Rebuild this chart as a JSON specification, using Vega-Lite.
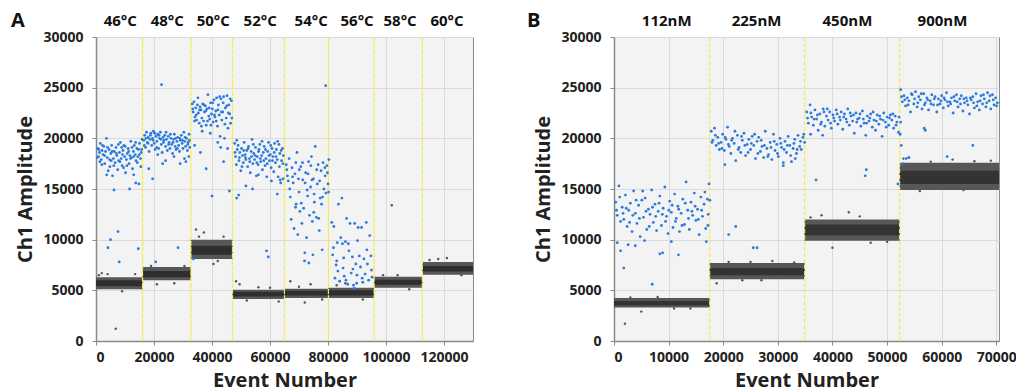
{
"$schema": "https://vega.github.io/schema/vega-lite/v6.json",
"background": "white",
"padding": {"left": 10, "top": 10, "right": 0, "bottom": 0},
"spacing": 52,
"config": {
 "view": {"fill": "#f3f3f3", "stroke": "#8a8a8a", "strokeWidth": 1},
 "axis": {"labelFont": "Open Sans", "labelFontWeight": "bold", "labelFontSize": 14, "labelColor": "#222", "titleFont": "Open Sans", "titleFontWeight": "bold", "titleFontSize": 20, "titleColor": "#222", "gridColor": "#dadada", "domainColor": "#8a8a8a", "domainWidth": 1.5, "tickColor": "#8a8a8a", "tickSize": 4, "format": "d"},
 "axisY": {"labelPadding": 9, "titlePadding": 7},
 "axisX": {"labelPadding": 5, "titlePadding": 6}
},
"datasets": {
 "bandsA": [
  {"start":0,"end":16055,"lo":5100,"hi":6300,"clo":5400,"chi":6000},
  {"start":16055,"end":32730,"lo":6000,"hi":7300,"clo":6300,"chi":6900},
  {"start":32730,"end":47060,"lo":8100,"hi":10000,"clo":8500,"chi":9400},
  {"start":47060,"end":64980,"lo":4150,"hi":5050,"clo":4400,"chi":4850},
  {"start":64980,"end":80140,"lo":4250,"hi":5150,"clo":4500,"chi":4950},
  {"start":80140,"end":95890,"lo":4250,"hi":5250,"clo":4500,"chi":5000},
  {"start":95890,"end":112530,"lo":5250,"hi":6350,"clo":5550,"chi":6050},
  {"start":112530,"end":130000,"lo":6550,"hi":7800,"clo":6850,"chi":7400}
 ],
 "linesA": [{"x":16055},{"x":32730},{"x":47060},{"x":64980},{"x":80140},{"x":95890},{"x":112530}],
 "headsA": [
  {"x":8370,"y":31600,"t":"46°C"},{"x":24560,"y":31600,"t":"48°C"},{"x":40410,"y":31600,"t":"50°C"},{"x":56600,"y":31600,"t":"52°C"},
  {"x":74180,"y":31600,"t":"54°C"},{"x":90030,"y":31600,"t":"56°C"},{"x":104850,"y":31600,"t":"58°C"},{"x":121040,"y":31600,"t":"60°C"},
  {"x":-26900,"y":31600,"t":"A"}
 ],
 "grayA": [
  {"x":6800,"y":1200},{"x":72000,"y":3800},{"x":102000,"y":13400},{"x":34500,"y":11000},{"x":37200,"y":10700},{"x":48300,"y":5900},{"x":49500,"y":5600},{"x":56000,"y":5300},{"x":74000,"y":5600},{"x":67000,"y":5900},{"x":86000,"y":5700},{"x":104000,"y":6500},{"x":118000,"y":8100},{"x":121000,"y":8200},{"x":2000,"y":6700},{"x":1000,"y":6500},{"x":21000,"y":5600},{"x":40500,"y":7600},{"x":63000,"y":3900},
  {"x":4000,"y":6600},{"x":9000,"y":4900},{"x":13500,"y":6600},{"x":19000,"y":7400},{"x":27000,"y":5700},{"x":30500,"y":7400},{"x":35500,"y":10300},{"x":44000,"y":10300},{"x":42000,"y":7900},{"x":52000,"y":4000},{"x":60000,"y":5250},{"x":70000,"y":5350},{"x":78000,"y":4100},{"x":83000,"y":5500},{"x":92000,"y":4100},{"x":99000,"y":6500},{"x":108000,"y":5100},{"x":115000,"y":8000},{"x":126000,"y":6500}
 ],
 "blueA": [
  {"x":600,"y":19000},{"x":900,"y":18200},{"x":1200,"y":18600},{"x":1500,"y":19500},{"x":1800,"y":17900},{"x":2100,"y":18800},{"x":2400,"y":18400},{"x":2700,"y":19200},{"x":3000,"y":17500},{"x":3300,"y":18700},{"x":3600,"y":20000},{"x":3900,"y":18100},{"x":4200,"y":16800},{"x":4500,"y":18900},{"x":4800,"y":17200},{"x":5100,"y":18500},{"x":5400,"y":19300},{"x":5700,"y":16300},{"x":6000,"y":18000},{"x":6300,"y":18700},{"x":6600,"y":17600},{"x":6900,"y":19100},{"x":7200,"y":18300},{"x":7500,"y":16900},{"x":7800,"y":17800},{"x":8100,"y":18600},{"x":8400,"y":19600},{"x":8700,"y":18000},{"x":9000,"y":17300},{"x":9300,"y":18800},{"x":9600,"y":19300},{"x":9900,"y":18200},{"x":10200,"y":16600},{"x":10500,"y":17900},{"x":10800,"y":18500},{"x":11100,"y":19000},{"x":11400,"y":17500},{"x":11700,"y":18300},{"x":12000,"y":19700},{"x":12300,"y":18100},{"x":12600,"y":17000},{"x":12900,"y":18700},{"x":13200,"y":19300},{"x":13500,"y":18400},{"x":13800,"y":17800},{"x":14100,"y":19000},{"x":14400,"y":18200},{"x":14700,"y":18900},{"x":15000,"y":19500},{"x":15300,"y":18000},{"x":15600,"y":18600},{"x":15900,"y":19900},
  {"x":450,"y":18100},{"x":1350,"y":17700},{"x":2250,"y":19300},{"x":2950,"y":18300},{"x":4000,"y":19100},{"x":4650,"y":17900},{"x":5550,"y":18700},{"x":6150,"y":17300},{"x":7050,"y":18500},{"x":7700,"y":19400},{"x":8250,"y":17700},{"x":9150,"y":18400},{"x":10050,"y":19200},{"x":10650,"y":17300},{"x":11250,"y":18700},{"x":11900,"y":18000},{"x":12450,"y":19100},{"x":13050,"y":18200},{"x":13650,"y":19600},{"x":14250,"y":17600},{"x":14950,"y":18400},{"x":15450,"y":17200},{"x":15750,"y":18900},{"x":5250,"y":17800},{"x":8850,"y":19100},
  {"x":6200,"y":14900},{"x":11600,"y":15000},{"x":13700,"y":15600},{"x":14800,"y":15500},{"x":3700,"y":16400},{"x":5000,"y":10000},{"x":4100,"y":9200},{"x":7600,"y":10800},{"x":8000,"y":7800},{"x":14600,"y":9100},{"x":9500,"y":17100},{"x":2000,"y":17400},{"x":1000,"y":18900},{"x":13000,"y":16400},
  {"x":16500,"y":19800},{"x":16800,"y":20300},{"x":17100,"y":19100},{"x":17400,"y":20600},{"x":17700,"y":19600},{"x":18000,"y":20100},{"x":18300,"y":18700},{"x":18600,"y":19900},{"x":18900,"y":20500},{"x":19200,"y":19300},{"x":19500,"y":20000},{"x":19800,"y":20700},{"x":20100,"y":19500},{"x":20400,"y":18900},{"x":20700,"y":20200},{"x":21000,"y":19700},{"x":21300,"y":20400},{"x":21600,"y":19000},{"x":21900,"y":20000},{"x":22200,"y":20600},{"x":22500,"y":19400},{"x":22800,"y":18600},{"x":23100,"y":20100},{"x":23400,"y":19800},{"x":23700,"y":20300},{"x":24000,"y":19200},{"x":24300,"y":19900},{"x":24600,"y":18800},{"x":24900,"y":20200},{"x":25200,"y":19600},{"x":25500,"y":19000},{"x":25800,"y":20000},{"x":26100,"y":19400},{"x":26400,"y":18500},{"x":26700,"y":19900},{"x":27000,"y":20400},{"x":27300,"y":19200},{"x":27600,"y":18900},{"x":27900,"y":19700},{"x":28200,"y":20100},{"x":28500,"y":19300},{"x":28800,"y":18700},{"x":29100,"y":19800},{"x":29400,"y":20300},{"x":29700,"y":19500},{"x":30000,"y":19000},{"x":30300,"y":20600},{"x":30600,"y":19700},{"x":30900,"y":19200},{"x":31200,"y":20000},{"x":31500,"y":18800},{"x":31800,"y":19600},{"x":32100,"y":20400},{"x":32300,"y":19100},
  {"x":16650,"y":19300},{"x":17250,"y":20000},{"x":17950,"y":19500},{"x":18750,"y":20300},{"x":19650,"y":19800},{"x":20250,"y":20500},{"x":20950,"y":19100},{"x":21750,"y":20300},{"x":22350,"y":19900},{"x":23250,"y":19600},{"x":24150,"y":20600},{"x":25050,"y":19400},{"x":25650,"y":20400},{"x":26550,"y":19600},{"x":27450,"y":20000},{"x":28050,"y":19000},{"x":28950,"y":20000},{"x":29850,"y":19800},{"x":30750,"y":20100},{"x":31650,"y":19400},{"x":32200,"y":19800},{"x":26900,"y":18200},{"x":23000,"y":17500},
  {"x":22600,"y":25300},{"x":18200,"y":17000},{"x":19500,"y":16000},{"x":29000,"y":17500},{"x":32000,"y":18200},{"x":24000,"y":17800},{"x":21300,"y":18400},{"x":28300,"y":9200},{"x":20600,"y":7800},{"x":30500,"y":18000},{"x":31000,"y":17700},
  {"x":33200,"y":23400},{"x":33500,"y":22600},{"x":33800,"y":23600},{"x":34100,"y":22100},{"x":34400,"y":23000},{"x":34700,"y":21800},{"x":35000,"y":23300},{"x":35300,"y":22500},{"x":35600,"y":21500},{"x":35900,"y":23100},{"x":36200,"y":22800},{"x":36500,"y":22000},{"x":36800,"y":23400},{"x":37100,"y":21700},{"x":37400,"y":22600},{"x":37700,"y":23200},{"x":38000,"y":21300},{"x":38300,"y":22900},{"x":38600,"y":24300},{"x":38900,"y":22200},{"x":39200,"y":21900},{"x":39500,"y":23500},{"x":39800,"y":22400},{"x":40100,"y":22900},{"x":40400,"y":21600},{"x":40700,"y":23800},{"x":41000,"y":22100},{"x":41300,"y":22700},{"x":41600,"y":24000},{"x":41900,"y":21200},{"x":42200,"y":23300},{"x":42500,"y":22300},{"x":42800,"y":20200},{"x":43100,"y":23900},{"x":43400,"y":21800},{"x":43700,"y":22600},{"x":44000,"y":24100},{"x":44300,"y":20000},{"x":44600,"y":23000},{"x":44900,"y":22000},{"x":45200,"y":24200},{"x":45500,"y":21000},{"x":45800,"y":23300},{"x":46100,"y":22400},{"x":46400,"y":21500},{"x":46700,"y":23700},
  {"x":33350,"y":22900},{"x":33950,"y":21700},{"x":34550,"y":22300},{"x":35150,"y":24000},{"x":35750,"y":22800},{"x":36350,"y":21200},{"x":37250,"y":23300},{"x":37850,"y":22700},{"x":38450,"y":21700},{"x":39050,"y":23000},{"x":39650,"y":21300},{"x":40250,"y":23500},{"x":40850,"y":22300},{"x":41450,"y":21700},{"x":42050,"y":22800},{"x":42650,"y":24100},{"x":43250,"y":22600},{"x":43850,"y":23500},{"x":44450,"y":21400},{"x":45050,"y":23200},{"x":45650,"y":22500},{"x":46250,"y":23900},{"x":46850,"y":22000},
  {"x":34000,"y":19300},{"x":36000,"y":18600},{"x":38000,"y":17000},{"x":40000,"y":14300},{"x":42000,"y":19600},{"x":44000,"y":17700},{"x":46000,"y":14800},{"x":45400,"y":19000},{"x":33600,"y":8100},{"x":39400,"y":20500},{"x":43000,"y":19100},{"x":36600,"y":20700},
  {"x":47800,"y":19500},{"x":48100,"y":18200},{"x":48400,"y":17400},{"x":48700,"y":18900},{"x":49000,"y":19300},{"x":49300,"y":17800},{"x":49600,"y":18600},{"x":49900,"y":16800},{"x":50200,"y":19000},{"x":50500,"y":18300},{"x":50800,"y":17600},{"x":51100,"y":19600},{"x":51400,"y":18400},{"x":51700,"y":17900},{"x":52000,"y":18800},{"x":52300,"y":17200},{"x":52600,"y":19200},{"x":52900,"y":18000},{"x":53200,"y":16600},{"x":53500,"y":18700},{"x":53800,"y":19900},{"x":54100,"y":17500},{"x":54400,"y":18500},{"x":54700,"y":17900},{"x":55000,"y":19100},{"x":55300,"y":16300},{"x":55600,"y":18200},{"x":55900,"y":17400},{"x":56200,"y":18900},{"x":56500,"y":19400},{"x":56800,"y":17700},{"x":57100,"y":18300},{"x":57400,"y":16900},{"x":57700,"y":18600},{"x":58000,"y":19200},{"x":58300,"y":17300},{"x":58600,"y":18000},{"x":58900,"y":16200},{"x":59200,"y":18700},{"x":59500,"y":19600},{"x":59800,"y":17800},{"x":60100,"y":18400},{"x":60400,"y":17100},{"x":60700,"y":19000},{"x":61000,"y":18200},{"x":61300,"y":16700},{"x":61600,"y":19500},{"x":61900,"y":17600},{"x":62200,"y":18900},{"x":62500,"y":17900},{"x":62800,"y":16200},{"x":63100,"y":19400},{"x":63400,"y":18500},{"x":63700,"y":15600},{"x":64000,"y":17800},{"x":64300,"y":19000},{"x":64600,"y":18300},
  {"x":47950,"y":18600},{"x":48550,"y":19800},{"x":49450,"y":18100},{"x":50350,"y":17200},{"x":50950,"y":18800},{"x":51550,"y":18100},{"x":52450,"y":19000},{"x":53050,"y":17700},{"x":53650,"y":18200},{"x":54250,"y":19400},{"x":54850,"y":18300},{"x":55450,"y":17600},{"x":56050,"y":18700},{"x":56650,"y":18000},{"x":57250,"y":19700},{"x":57850,"y":17800},{"x":58450,"y":18900},{"x":59050,"y":17500},{"x":59650,"y":18300},{"x":60250,"y":19300},{"x":60850,"y":17800},{"x":61450,"y":18600},{"x":62050,"y":18200},{"x":62650,"y":19700},{"x":63250,"y":17200},{"x":63850,"y":18800},{"x":64450,"y":17500},
  {"x":48500,"y":14100},{"x":49200,"y":14400},{"x":51700,"y":15300},{"x":54000,"y":15000},{"x":56000,"y":16400},{"x":60500,"y":15800},{"x":62500,"y":14500},{"x":58800,"y":8900},{"x":59400,"y":8300},{"x":63500,"y":15900},{"x":64500,"y":16000},
  {"x":65600,"y":17400},{"x":66000,"y":16300},{"x":66300,"y":15800},{"x":66600,"y":18000},{"x":67000,"y":14200},{"x":67300,"y":12000},{"x":67600,"y":17100},{"x":68000,"y":15600},{"x":68300,"y":11100},{"x":68600,"y":16500},{"x":69000,"y":13500},{"x":69300,"y":18600},{"x":69600,"y":10500},{"x":70000,"y":14700},{"x":70300,"y":12800},{"x":70600,"y":17200},{"x":71000,"y":11600},{"x":71300,"y":15900},{"x":71600,"y":13100},{"x":72000,"y":8700},{"x":72300,"y":16600},{"x":72600,"y":10200},{"x":73000,"y":14300},{"x":73300,"y":17700},{"x":73600,"y":12400},{"x":74000,"y":15200},{"x":74300,"y":18200},{"x":74600,"y":11800},{"x":75000,"y":16000},{"x":75300,"y":13700},{"x":75600,"y":19200},{"x":76000,"y":12200},{"x":76300,"y":15500},{"x":76600,"y":17400},{"x":77000,"y":10900},{"x":77300,"y":14100},{"x":77600,"y":16800},{"x":78000,"y":9000},{"x":78300,"y":17600},{"x":78600,"y":15000},{"x":79000,"y":16300},{"x":79300,"y":14600},{"x":79600,"y":17300},{"x":80000,"y":15500},{"x":80300,"y":17900},
  {"x":65800,"y":16900},{"x":66800,"y":15000},{"x":67800,"y":16200},{"x":68900,"y":17600},{"x":70100,"y":16900},{"x":71200,"y":17600},{"x":72100,"y":15600},{"x":73100,"y":16500},{"x":74100,"y":17300},{"x":75200,"y":14500},{"x":76100,"y":16900},{"x":77100,"y":15800},{"x":78100,"y":14200},{"x":78900,"y":17100},{"x":79800,"y":16600},{"x":80200,"y":14700},{"x":70800,"y":13600},{"x":74500,"y":15900},
  {"x":73400,"y":7700},{"x":71900,"y":7900},{"x":75100,"y":12700},{"x":77800,"y":13500},{"x":72800,"y":14900},{"x":79200,"y":25200},{"x":74800,"y":8500},{"x":68800,"y":13200},{"x":69800,"y":16000},{"x":76800,"y":12100},
  {"x":81300,"y":11700},{"x":81600,"y":8500},{"x":82000,"y":11300},{"x":82400,"y":6200},{"x":82800,"y":7500},{"x":83200,"y":9700},{"x":83600,"y":13500},{"x":84000,"y":5900},{"x":84400,"y":10200},{"x":84800,"y":14100},{"x":85200,"y":7200},{"x":85600,"y":6400},{"x":86000,"y":9800},{"x":86400,"y":12100},{"x":86800,"y":5600},{"x":87200,"y":8900},{"x":87600,"y":11600},{"x":88000,"y":6700},{"x":88400,"y":8300},{"x":88800,"y":5500},{"x":89200,"y":11600},{"x":89600,"y":7600},{"x":90000,"y":6500},{"x":90400,"y":11200},{"x":90800,"y":8400},{"x":91200,"y":7300},{"x":91600,"y":11200},{"x":92000,"y":5800},{"x":92400,"y":8100},{"x":92800,"y":6600},{"x":93200,"y":11700},{"x":93600,"y":7600},{"x":94000,"y":6000},{"x":94400,"y":10400},{"x":94800,"y":8400},{"x":95200,"y":6300},
  {"x":81900,"y":9200},{"x":83400,"y":6900},{"x":85400,"y":8200},{"x":87000,"y":9600},{"x":88600,"y":7100},{"x":90200,"y":9900},{"x":91800,"y":6200},{"x":93400,"y":9000},{"x":95000,"y":7000},{"x":86200,"y":6000},{"x":89900,"y":5700},
  {"x":85000,"y":9600},{"x":83000,"y":7900},{"x":89000,"y":5200}
 ],
 "bandsB": [
  {"start":0,"end":17520,"lo":3300,"hi":4250,"clo":3500,"chi":3950},
  {"start":17520,"end":34910,"lo":6100,"hi":7700,"clo":6500,"chi":7200},
  {"start":34910,"end":52300,"lo":9900,"hi":12000,"clo":10400,"chi":11500},
  {"start":52300,"end":70500,"lo":14900,"hi":17600,"clo":15500,"chi":16800}
 ],
 "linesB": [{"x":17520},{"x":34910},{"x":52300}],
 "headsB": [
  {"x":9650,"y":31600,"t":"112nM"},{"x":26100,"y":31600,"t":"225nM"},{"x":42740,"y":31600,"t":"450nM"},{"x":60150,"y":31600,"t":"900nM"},
  {"x":-14700,"y":31600,"t":"B"}
 ],
 "grayB": [
  {"x":2000,"y":1700},{"x":5000,"y":2900},{"x":11000,"y":3200},{"x":18800,"y":5700},{"x":23500,"y":6000},{"x":29000,"y":7900},{"x":25000,"y":7800},{"x":43000,"y":12700},{"x":40000,"y":9200},{"x":47000,"y":9700},{"x":38000,"y":12400},{"x":53000,"y":18000},{"x":54000,"y":18100},{"x":62000,"y":17900},{"x":69000,"y":17800},{"x":56000,"y":14800},
  {"x":3000,"y":4300},{"x":8000,"y":4350},{"x":14000,"y":3200},{"x":21000,"y":7800},{"x":27000,"y":6000},{"x":33000,"y":7750},{"x":36000,"y":12200},{"x":45000,"y":12300},{"x":50000,"y":9800},{"x":58000,"y":17700},{"x":66000,"y":17750},{"x":64000,"y":14900}
 ],
 "blueB": [
  {"x":300,"y":13700},{"x":600,"y":12400},{"x":900,"y":15300},{"x":1200,"y":11800},{"x":1500,"y":13200},{"x":1800,"y":12000},{"x":2100,"y":14400},{"x":2400,"y":11300},{"x":2700,"y":12900},{"x":3000,"y":13600},{"x":3300,"y":10800},{"x":3600,"y":14800},{"x":3900,"y":12600},{"x":4200,"y":11600},{"x":4500,"y":13400},{"x":4800,"y":10300},{"x":5100,"y":13900},{"x":5400,"y":12200},{"x":5700,"y":14100},{"x":6000,"y":11000},{"x":6300,"y":13000},{"x":6600,"y":12500},{"x":6900,"y":14900},{"x":7200,"y":11700},{"x":7500,"y":13500},{"x":7800,"y":10900},{"x":8100,"y":12800},{"x":8400,"y":14300},{"x":8700,"y":11400},{"x":9000,"y":13100},{"x":9300,"y":15200},{"x":9600,"y":12300},{"x":9900,"y":10600},{"x":10200,"y":13800},{"x":10500,"y":12700},{"x":10800,"y":11200},{"x":11100,"y":14500},{"x":11400,"y":12100},{"x":11700,"y":13300},{"x":12000,"y":10800},{"x":12300,"y":12600},{"x":12600,"y":14000},{"x":12900,"y":11500},{"x":13200,"y":15700},{"x":13500,"y":12900},{"x":13800,"y":11000},{"x":14100,"y":13700},{"x":14400,"y":12400},{"x":14700,"y":14600},{"x":15000,"y":11900},{"x":15300,"y":13000},{"x":15600,"y":10500},{"x":15900,"y":14200},{"x":16200,"y":12300},{"x":16500,"y":13500},{"x":16800,"y":11100},{"x":17100,"y":14000},{"x":17400,"y":15500},
  {"x":450,"y":12900},{"x":1050,"y":14200},{"x":1650,"y":12600},{"x":2250,"y":13100},{"x":2850,"y":11700},{"x":3450,"y":12400},{"x":4050,"y":13900},{"x":4650,"y":12100},{"x":5250,"y":14800},{"x":5850,"y":12800},{"x":6450,"y":11300},{"x":7050,"y":13200},{"x":7650,"y":12300},{"x":8250,"y":13600},{"x":8850,"y":12500},{"x":9450,"y":11800},{"x":10050,"y":12900},{"x":10650,"y":13400},{"x":11250,"y":11800},{"x":11850,"y":13000},{"x":12450,"y":11400},{"x":13050,"y":13600},{"x":13650,"y":12100},{"x":14250,"y":12800},{"x":14850,"y":13300},{"x":15450,"y":12000},{"x":16050,"y":12900},{"x":16650,"y":14700},{"x":17250,"y":12500},{"x":17550,"y":13900},
  {"x":600,"y":9700},{"x":1200,"y":8900},{"x":1800,"y":7200},{"x":3900,"y":9400},{"x":5600,"y":9900},{"x":7000,"y":5600},{"x":8400,"y":8600},{"x":8900,"y":8700},{"x":10500,"y":9800},{"x":11800,"y":8500},{"x":16900,"y":9800},{"x":17200,"y":11400},{"x":2600,"y":9500},
  {"x":17800,"y":20700},{"x":18100,"y":19800},{"x":18400,"y":21000},{"x":18700,"y":19300},{"x":19000,"y":20100},{"x":19300,"y":18900},{"x":19600,"y":19600},{"x":19900,"y":20400},{"x":20200,"y":18800},{"x":20500,"y":19900},{"x":20800,"y":21100},{"x":21100,"y":19200},{"x":21400,"y":18500},{"x":21700,"y":20000},{"x":22000,"y":19500},{"x":22300,"y":17800},{"x":22600,"y":20300},{"x":22900,"y":19100},{"x":23200,"y":18600},{"x":23500,"y":19800},{"x":23800,"y":20500},{"x":24100,"y":18300},{"x":24400,"y":19400},{"x":24700,"y":19900},{"x":25000,"y":18900},{"x":25300,"y":20200},{"x":25600,"y":19300},{"x":25900,"y":18000},{"x":26200,"y":19700},{"x":26500,"y":20100},{"x":26800,"y":18700},{"x":27100,"y":19200},{"x":27400,"y":18100},{"x":27700,"y":20700},{"x":28000,"y":19000},{"x":28300,"y":18400},{"x":28600,"y":19600},{"x":28900,"y":17900},{"x":29200,"y":20400},{"x":29500,"y":18800},{"x":29800,"y":19400},{"x":30100,"y":18200},{"x":30400,"y":20000},{"x":30700,"y":19100},{"x":31000,"y":17600},{"x":31300,"y":19700},{"x":31600,"y":18600},{"x":31900,"y":20200},{"x":32200,"y":19300},{"x":32500,"y":17700},{"x":32800,"y":19000},{"x":33100,"y":19900},{"x":33400,"y":18500},{"x":33700,"y":20300},{"x":34000,"y":19200},{"x":34300,"y":18900},{"x":34600,"y":20100},{"x":34900,"y":19600},
  {"x":17950,"y":19600},{"x":18550,"y":20300},{"x":19150,"y":19500},{"x":19750,"y":19000},{"x":20350,"y":20100},{"x":20950,"y":19400},{"x":21550,"y":19800},{"x":22150,"y":20700},{"x":22750,"y":18900},{"x":23350,"y":20200},{"x":23950,"y":19300},{"x":24550,"y":18600},{"x":25150,"y":19500},{"x":25750,"y":20400},{"x":26350,"y":18500},{"x":26950,"y":19800},{"x":27550,"y":19300},{"x":28150,"y":18200},{"x":28750,"y":19100},{"x":29350,"y":19700},{"x":29950,"y":18500},{"x":30550,"y":19500},{"x":31150,"y":18900},{"x":31750,"y":19300},{"x":32350,"y":18300},{"x":32950,"y":19500},{"x":33550,"y":18900},{"x":34150,"y":19700},{"x":34750,"y":20400},
  {"x":20300,"y":17400},{"x":31000,"y":17300},{"x":21000,"y":10500},{"x":22300,"y":11300},{"x":25500,"y":9200},{"x":26200,"y":9200},{"x":33200,"y":18000},
  {"x":35300,"y":22600},{"x":35600,"y":21500},{"x":35900,"y":23300},{"x":36200,"y":22100},{"x":36500,"y":21300},{"x":36800,"y":22800},{"x":37100,"y":21900},{"x":37400,"y":20800},{"x":37700,"y":22400},{"x":38000,"y":21600},{"x":38300,"y":22900},{"x":38600,"y":21200},{"x":38900,"y":22200},{"x":39200,"y":21800},{"x":39500,"y":22600},{"x":39800,"y":21000},{"x":40100,"y":22300},{"x":40400,"y":21700},{"x":40700,"y":22800},{"x":41000,"y":21400},{"x":41300,"y":22100},{"x":41600,"y":22600},{"x":41900,"y":20900},{"x":42200,"y":22400},{"x":42500,"y":21900},{"x":42800,"y":22900},{"x":43100,"y":21300},{"x":43400,"y":22200},{"x":43700,"y":21700},{"x":44000,"y":20500},{"x":44300,"y":22500},{"x":44600,"y":21900},{"x":44900,"y":22000},{"x":45200,"y":21200},{"x":45500,"y":22700},{"x":45800,"y":21500},{"x":46100,"y":20300},{"x":46400,"y":22200},{"x":46700,"y":21700},{"x":47000,"y":22400},{"x":47300,"y":21100},{"x":47600,"y":21800},{"x":47900,"y":20800},{"x":48200,"y":22300},{"x":48500,"y":21400},{"x":48800,"y":21900},{"x":49100,"y":20200},{"x":49400,"y":22500},{"x":49700,"y":21600},{"x":50000,"y":22100},{"x":50300,"y":21300},{"x":50600,"y":22300},{"x":50900,"y":21800},{"x":51200,"y":21000},{"x":51500,"y":22200},{"x":51800,"y":21600},{"x":52100,"y":20600},
  {"x":35450,"y":22000},{"x":36050,"y":22500},{"x":36650,"y":21900},{"x":37250,"y":22300},{"x":37850,"y":21400},{"x":38450,"y":22600},{"x":39050,"y":22900},{"x":39650,"y":21500},{"x":40250,"y":22000},{"x":40850,"y":22400},{"x":41450,"y":21800},{"x":42050,"y":22100},{"x":42650,"y":21600},{"x":43250,"y":22500},{"x":43850,"y":22300},{"x":44450,"y":21600},{"x":45050,"y":22400},{"x":45650,"y":21900},{"x":46250,"y":21500},{"x":46850,"y":22000},{"x":47450,"y":22600},{"x":48050,"y":21700},{"x":48650,"y":22200},{"x":49250,"y":21800},{"x":49850,"y":21100},{"x":50450,"y":22000},{"x":51050,"y":22400},{"x":51650,"y":21300},{"x":52200,"y":22100},
  {"x":37000,"y":15900},{"x":46200,"y":16900},{"x":46000,"y":16300},{"x":52000,"y":15500},{"x":36000,"y":20400},{"x":38200,"y":20300},
  {"x":52500,"y":24800},{"x":52800,"y":23600},{"x":53100,"y":24200},{"x":53400,"y":23200},{"x":53700,"y":24000},{"x":54000,"y":23700},{"x":54300,"y":22600},{"x":54600,"y":24300},{"x":54900,"y":23400},{"x":55200,"y":24600},{"x":55500,"y":23100},{"x":55800,"y":24100},{"x":56100,"y":23800},{"x":56400,"y":22900},{"x":56700,"y":24400},{"x":57000,"y":23500},{"x":57300,"y":24000},{"x":57600,"y":22800},{"x":57900,"y":23700},{"x":58200,"y":24300},{"x":58500,"y":23300},{"x":58800,"y":24100},{"x":59100,"y":22600},{"x":59400,"y":23900},{"x":59700,"y":23400},{"x":60000,"y":24200},{"x":60300,"y":23000},{"x":60600,"y":23800},{"x":60900,"y":24500},{"x":61200,"y":23200},{"x":61500,"y":23600},{"x":61800,"y":24000},{"x":62100,"y":22500},{"x":62400,"y":23700},{"x":62700,"y":24300},{"x":63000,"y":23100},{"x":63300,"y":23900},{"x":63600,"y":24200},{"x":63900,"y":22700},{"x":64200,"y":23500},{"x":64500,"y":24000},{"x":64800,"y":23300},{"x":65100,"y":22400},{"x":65400,"y":23800},{"x":65700,"y":24100},{"x":66000,"y":23000},{"x":66300,"y":24400},{"x":66600,"y":23600},{"x":66900,"y":22800},{"x":67200,"y":24200},{"x":67500,"y":23400},{"x":67800,"y":23900},{"x":68100,"y":23100},{"x":68400,"y":24500},{"x":68700,"y":23700},{"x":69000,"y":22900},{"x":69300,"y":24300},{"x":69600,"y":23300},{"x":69900,"y":24000},{"x":70200,"y":23500},
  {"x":52650,"y":24100},{"x":53250,"y":23800},{"x":53850,"y":23300},{"x":54450,"y":24400},{"x":55050,"y":23900},{"x":55650,"y":23500},{"x":56250,"y":24400},{"x":56850,"y":23300},{"x":57450,"y":23800},{"x":58050,"y":23400},{"x":58650,"y":23900},{"x":59250,"y":23300},{"x":59850,"y":23700},{"x":60450,"y":24000},{"x":61050,"y":23600},{"x":61650,"y":23400},{"x":62250,"y":24100},{"x":62850,"y":23600},{"x":63450,"y":23400},{"x":64050,"y":23900},{"x":64650,"y":23700},{"x":65250,"y":24000},{"x":65850,"y":23500},{"x":66450,"y":23200},{"x":67050,"y":23700},{"x":67650,"y":24300},{"x":68250,"y":23500},{"x":68850,"y":24200},{"x":69450,"y":23800},{"x":70050,"y":23200},
  {"x":52600,"y":19300},{"x":52400,"y":20400},{"x":52500,"y":21600},{"x":53500,"y":18000},{"x":54000,"y":18100},{"x":56800,"y":21000},{"x":57000,"y":20800},{"x":65700,"y":19300},{"x":61000,"y":18200},{"x":53000,"y":17500}
 ]
},
"hconcat": [
 {
  "width": 377, "height": 304,
  "layer": [
   {"data": {"name": "bandsA"}, "mark": {"type": "rect", "color": "#575757"},
    "encoding": {
     "x": {"field": "start", "type": "quantitative", "scale": {"domain": [0, 130000], "nice": false, "zero": false}, "axis": {"values": [0,20000,40000,60000,80000,100000,120000], "title": "Event Number"}},
     "x2": {"field": "end"},
     "y": {"field": "lo", "type": "quantitative", "scale": {"domain": [0, 30000], "nice": false}, "axis": {"values": [0,5000,10000,15000,20000,25000,30000], "title": "Ch1 Amplitude"}},
     "y2": {"field": "hi"}}},
   {"data": {"name": "bandsA"}, "mark": {"type": "rect", "color": "#2e2e2e"},
    "encoding": {"x": {"field": "start", "type": "quantitative"}, "x2": {"field": "end"}, "y": {"field": "clo", "type": "quantitative"}, "y2": {"field": "chi"}}},
   {"data": {"name": "linesA"}, "mark": {"type": "rule", "color": "#f3ec4f", "strokeWidth": 1.2, "strokeDash": [5, 1]},
    "encoding": {"x": {"field": "x", "type": "quantitative"}}},
   {"data": {"name": "grayA"}, "mark": {"type": "point", "filled": true, "color": "#555", "size": 6, "opacity": 1},
    "encoding": {"x": {"field": "x", "type": "quantitative"}, "y": {"field": "y", "type": "quantitative"}}},
   {"data": {"name": "blueA"}, "mark": {"type": "point", "filled": true, "color": "#2b7bdf", "size": 8, "opacity": 1},
    "encoding": {"x": {"field": "x", "type": "quantitative"}, "y": {"field": "y", "type": "quantitative"}}},
   {"data": {"name": "headsA"}, "mark": {"type": "text", "font": "Open Sans", "fontWeight": "bold", "fontSize": 15, "color": "#111", "baseline": "middle"},
    "encoding": {"x": {"field": "x", "type": "quantitative"}, "y": {"field": "y", "type": "quantitative"}, "text": {"field": "t"},
     "size": {"condition": {"test": "datum.t === 'A'", "value": 20}, "value": 15}}}
  ]
 },
 {
  "width": 385, "height": 304,
  "layer": [
   {"data": {"name": "bandsB"}, "mark": {"type": "rect", "color": "#575757"},
    "encoding": {
     "x": {"field": "start", "type": "quantitative", "scale": {"domain": [0, 70500], "nice": false, "zero": false}, "axis": {"values": [0,10000,20000,30000,40000,50000,60000,70000], "title": "Event Number"}},
     "x2": {"field": "end"},
     "y": {"field": "lo", "type": "quantitative", "scale": {"domain": [0, 30000], "nice": false}, "axis": {"values": [0,5000,10000,15000,20000,25000,30000], "title": "Ch1 Amplitude"}},
     "y2": {"field": "hi"}}},
   {"data": {"name": "bandsB"}, "mark": {"type": "rect", "color": "#333333"},
    "encoding": {"x": {"field": "start", "type": "quantitative"}, "x2": {"field": "end"}, "y": {"field": "clo", "type": "quantitative"}, "y2": {"field": "chi"}}},
   {"data": {"name": "linesB"}, "mark": {"type": "rule", "color": "#f3ec4f", "strokeWidth": 1.2, "strokeDash": [4, 2]},
    "encoding": {"x": {"field": "x", "type": "quantitative"}}},
   {"data": {"name": "grayB"}, "mark": {"type": "point", "filled": true, "color": "#555", "size": 6, "opacity": 1},
    "encoding": {"x": {"field": "x", "type": "quantitative"}, "y": {"field": "y", "type": "quantitative"}}},
   {"data": {"name": "blueB"}, "mark": {"type": "point", "filled": true, "color": "#2b7bdf", "size": 8, "opacity": 1},
    "encoding": {"x": {"field": "x", "type": "quantitative"}, "y": {"field": "y", "type": "quantitative"}}},
   {"data": {"name": "headsB"}, "mark": {"type": "text", "font": "Open Sans", "fontWeight": "bold", "fontSize": 15, "color": "#111", "baseline": "middle"},
    "encoding": {"x": {"field": "x", "type": "quantitative"}, "y": {"field": "y", "type": "quantitative"}, "text": {"field": "t"},
     "size": {"condition": {"test": "datum.t === 'B'", "value": 20}, "value": 15}}}
  ]
 }
]
}
